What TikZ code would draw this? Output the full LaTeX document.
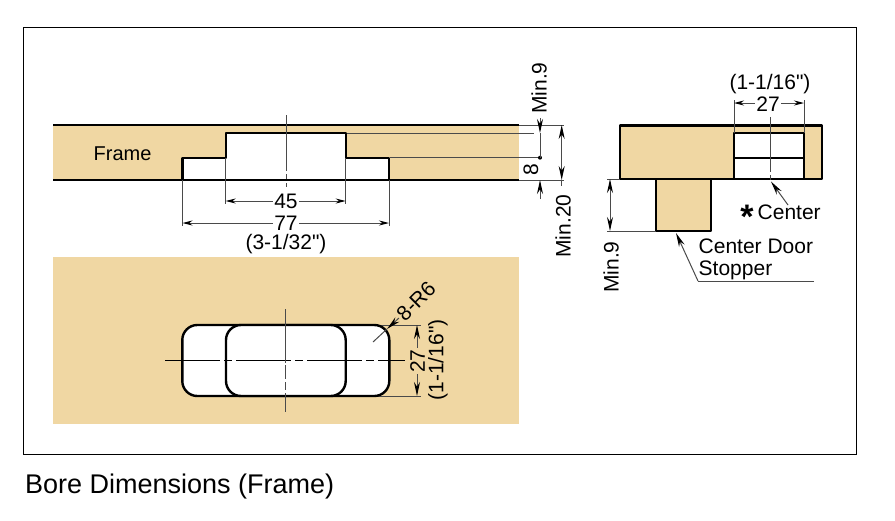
\documentclass[tikz,border=0pt]{standalone}
\usepackage{fontspec}
\newfontfamily\lsans{Liberation Sans}
\newfontfamily\lsansb{Liberation Sans Bold}
\usetikzlibrary{arrows.meta}
\definecolor{wood}{HTML}{F0D7A3}
\definecolor{dimc}{HTML}{4A4A4A}
\tikzset{
  x=1pt,y=-1pt,
  thick line/.style={black,line width=2.4pt,line join=round},
  dimline/.style={dimc,line width=1pt},
  hdim/.style={dimline,{Stealth[length=10pt,width=5pt,color=black]}-{Stealth[length=10pt,width=5pt,color=black]}},
  vdim/.style={dimline,{Stealth[length=14pt,width=6pt,color=black]}-{Stealth[length=14pt,width=6pt,color=black]}},
  tipend/.style={dimline,-{Stealth[length=14pt,width=6pt,color=black]}},
  axisline/.style={dimc,line width=1pt},
  lbl/.style={font=\lsans\fontsize{21}{21}\selectfont,inner sep=0pt,text=black},
  halo/.style={lbl,fill=white,inner xsep=1.5pt,inner ysep=0pt},
}
\begin{document}
\begin{tikzpicture}
\useasboundingbox (0,0) rectangle (895,520);
\fill[white] (0,0) rectangle (895,520);
\draw[black,line width=1pt] (23,27) rectangle (856,454);
% ---- section view
\fill[wood] (53,125) rectangle (519,180);
\fill[white] (182.5,180) -- (182.5,157.7) -- (225.7,157.7) -- (225.7,133) -- (345.7,133) -- (345.7,157.7) -- (389,157.7) -- (389,180) -- cycle;
\draw[black,line width=2.6pt] (53,125) -- (519,125);
\draw[black,line width=2.2pt] (53,180) -- (519,180);
\draw[thick line] (182.5,180) -- (182.5,157.7) -- (225.7,157.7) -- (225.7,133) -- (345.7,133) -- (345.7,157.7) -- (389,157.7) -- (389,180);
\draw[axisline,dash pattern=on 56pt off 3pt on 5pt off 4pt on 6pt] (286,115) -- (286,187);
\node[lbl,anchor=west,font=\lsans\fontsize{20}{20}\selectfont] (frame) at (93.5,154) {Frame};
% width dims
\draw[dimline] (225.7,158) -- (225.7,204) (345.7,158) -- (345.7,204);
\draw[dimline] (182.5,180) -- (182.5,226) (389,180) -- (389,226);
\draw[hdim] (225.7,201) -- (345.7,201);
\draw[hdim] (182.5,223) -- (389,223);
\node[halo] (d45) at (286,201.5) {45};
\node[halo] (d77) at (286,223.5) {77};
\node[lbl] (d332) at (286,244.5) {(3-1/32")};
% right dims
\draw[dimline] (519,125) -- (564,125) (519,180) -- (564,180);
\draw[dimline] (347,133) -- (534,133);
\draw[dimline] (390,157.7) -- (540,157.7);
\fill[black] (540,157.7) circle (2pt);
\draw[tipend] (540,118) -- (540,133);
\draw[dimline] (540,133) -- (540,158);
\draw[tipend] (540,199) -- (540,180);
\node[lbl,rotate=90] (min9a) at (539,88) {Min.9};
\node[lbl,rotate=90] (d8) at (531,169.5) {8};
\draw[vdim] (561.7,125) -- (561.7,180);
\draw[dimline] (561.7,180) -- (561.7,186);
\node[lbl,rotate=90] (min20) at (563,226) {Min.20};
% ---- plan view
\fill[wood] (53,257) rectangle (519,424);
\draw[dimline] (378,325) -- (421,325) (378,396) -- (421,396);
\draw[thick line,fill=white,rounded corners=15pt] (182.3,325) rectangle (389.3,396);
\draw[thick line,fill=white,rounded corners=15pt] (226,325) rectangle (345.7,396);
\draw[black,line width=.8pt,dash pattern=on 55pt off 4pt on 8pt off 4pt] (165,360) -- (405,360);
\draw[axisline,dash pattern=on 54pt off 2pt on 14pt off 3pt on 8pt off 3pt] (285.7,309) -- (285.7,412);
\draw[dimline] (373,342) -- (387,329);
\draw[tipend] (399,318) -- (387,329);
\node[lbl,rotate=45] (r6) at (416,301) {8-R6};
\draw[vdim] (417,325) -- (417,396);
\node[lbl,rotate=90,fill=wood,inner xsep=1.5pt] (d27b) at (417.5,361) {27};
\node[lbl,rotate=90] (d116b) at (438,360) {(1-1/16")};
% ---- end view
\fill[wood] (620,125.3) rectangle (822,179);
\fill[white] (734,133) rectangle (804,179);
\draw[thick line,fill=wood] (656,179) rectangle (710.7,231);
\draw[thick line] (620,125.3) rectangle (822,179);
\draw[thick line,fill=white] (734,133) rectangle (804,179);
\draw[black,line width=2.2pt] (734,158) -- (804,158);
\draw[axisline,dash pattern=on 55pt off 3pt on 5pt] (770,117) -- (770,181);
\draw[dimline] (734,100) -- (734,133) (804,100) -- (804,133);
\draw[hdim] (734,103) -- (804,103);
\node[halo] (d27a) at (768,104) {27};
\node[lbl] (d116a) at (770,84) {(1-1/16")};
\draw[dimline] (607,179) -- (620,179) (607,231) -- (656,231);
\draw[vdim] (610,179) -- (610,231);
\node[lbl,rotate=90] (min9b) at (611,267) {Min.9};
\node[lbl,anchor=west] (center) at (757.5,212) {Center};
\node[font=\lsansb\fontsize{34}{34}\selectfont,inner sep=0pt] (star) at (747,216.5) {*};
\coordinate (ctip) at (771,181.5);
\draw[tipend] (788,205) -- (ctip);
\node[lbl,anchor=west] (door) at (698.5,246) {Center Door};
\node[lbl,anchor=west] (stop) at (698.5,270) {Stopper};
\coordinate (stip) at (676,233);
\draw[dimline] (814,281) -- (698,281);
\draw[tipend] (698,281) -- (stip);
% caption
\node[anchor=base west,inner sep=0pt,font=\lsans\fontsize{27}{27}\selectfont] (cap) at (25,493) {Bore Dimensions (Frame)};
\end{tikzpicture}
\end{document}
